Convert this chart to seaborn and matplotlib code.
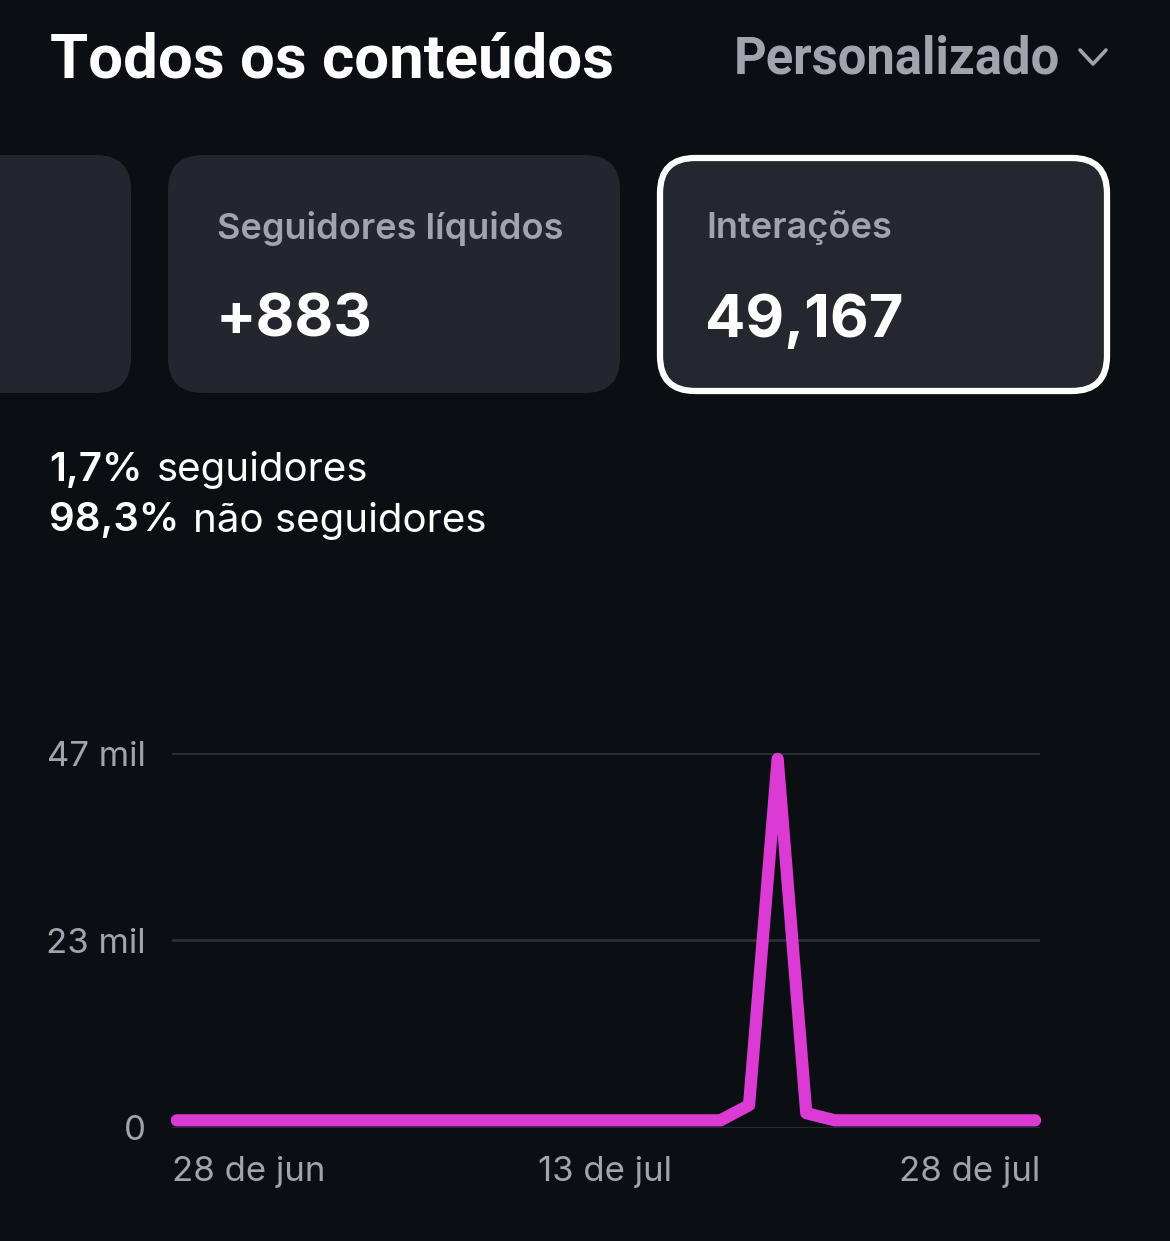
import pandas as pd
import seaborn as sns
import matplotlib.pyplot as plt
from matplotlib.patches import FancyBboxPatch
from matplotlib.lines import Line2D

# data
dates = pd.date_range("2024-06-28", "2024-07-28", freq="D")
interactions = [900, 900, 900, 900, 900, 900, 900, 900, 900, 900,
                900, 900, 900, 900, 900, 900, 900, 900, 900, 900,
                2800, 46300, 1800, 900, 900, 900, 900, 900, 900, 900, 900]
ytick_vals = [0, 23500, 47000]
ytick_labels = ["0", "23 mil", "47 mil"]
xtick_labels = ["28 de jun", "13 de jul", "28 de jul"]

BG = "#0b0f14"
CARD = "#23262c"
GRAY = "#9fa4ad"
PINK = "#db3bd3"

df = pd.DataFrame({"date": dates, "value": interactions})
df["idx"] = range(len(df))

sns.set_theme(style="dark")
plt.rcParams["font.family"] = ["Inter", "DejaVu Sans"]
HEAD = ["Roboto", "DejaVu Sans"]

W, H = 1170, 1241
fig = plt.figure(figsize=(W / 100, H / 100), dpi=100)
fig.patch.set_facecolor(BG)
renderer = fig.canvas.get_renderer()


def fx(px):
    return px / W


def fy(py):
    return 1 - py / H


# header
fig.text(fx(50), fy(60), "Todos os conteúdos", color="white", fontsize=44.5,
         fontweight="bold", va="center", ha="left", family=HEAD)
fig.text(fx(1060), fy(60), "Personalizado", color=GRAY, fontsize=36.5,
         fontweight="bold", va="center", ha="right", family=HEAD)
fig.add_artist(Line2D([fx(1080), fx(1093), fx(1106)], [fy(50), fy(64), fy(50)],
                      transform=fig.transFigure, color=GRAY, linewidth=2.6,
                      solid_capstyle="round", solid_joinstyle="round"))

# cards
cards = [(-60, 155, 191, 238, CARD, None),
         (168, 155, 452, 238, CARD, None),
         (660, 158, 447, 233, "#24272d", "white")]
for x, y, w, h, fc, ec in cards:
    p = FancyBboxPatch((fx(x), fy(y + h)), fx(w), h / H,
                       boxstyle="round,pad=0,rounding_size=0.03",
                       transform=fig.transFigure, facecolor=fc,
                       edgecolor=ec if ec else fc,
                       linewidth=4.5 if ec else 0, mutation_aspect=W / H)
    fig.add_artist(p)

fig.text(fx(217), fy(228), "Seguidores líquidos", color=GRAY, fontsize=26,
         fontweight="semibold", va="center")
fig.text(fx(216), fy(321), "+883", color="white", fontsize=43,
         fontweight="bold", va="center")
fig.text(fx(706), fy(228), "Interações", color=GRAY, fontsize=26,
         fontweight="semibold", va="center")
fig.text(fx(705), fy(321), "49,167", color="white", fontsize=43,
         fontweight="bold", va="center")


# follower split: bold percentage followed by regular text
def split_line(py, pct, rest):
    t = fig.text(fx(49), fy(py), pct, color="white", fontsize=29,
                 fontweight="semibold", va="center")
    bb = t.get_window_extent(renderer)
    fig.text(fx(bb.x1 + 14), fy(py), rest, color="white", fontsize=29,
             va="center")


split_line(470, "1,7%", "seguidores")
split_line(521, "98,3%", "não seguidores")

# chart
ax = fig.add_axes([fx(172), fy(1127.5), fx(1040 - 172), (1127.5 - 753.3) / H])
ax.set_facecolor(BG)
sns.lineplot(data=df, x="idx", y="value", ax=ax, color=PINK, linewidth=8.8,
             solid_capstyle="round", solid_joinstyle="round", clip_on=False)
ax.set_xlim(-0.17, 30.17)
ax.set_ylim(0, 47000)
for s in ax.spines.values():
    s.set_visible(False)
for v in ytick_vals:
    ax.axhline(v, color="#2b2f36", linewidth=2, zorder=0)
ax.grid(False)
ax.set_yticks(ytick_vals)
ax.set_yticklabels(ytick_labels, color=GRAY, fontsize=25)
ax.tick_params(axis="y", length=0, pad=19)
ax.set_xticks([])
ax.set_xlabel("")
ax.set_ylabel("")
xpos = [0, (605 - 172) / (1040 - 172), 1]
for xp, lab, ha in zip(xpos, xtick_labels, ["left", "center", "right"]):
    ax.text(xp, -0.12, lab, transform=ax.transAxes, ha=ha, va="center",
            color=GRAY, fontsize=25)

fig.savefig("out.png", dpi=100, facecolor=BG)
